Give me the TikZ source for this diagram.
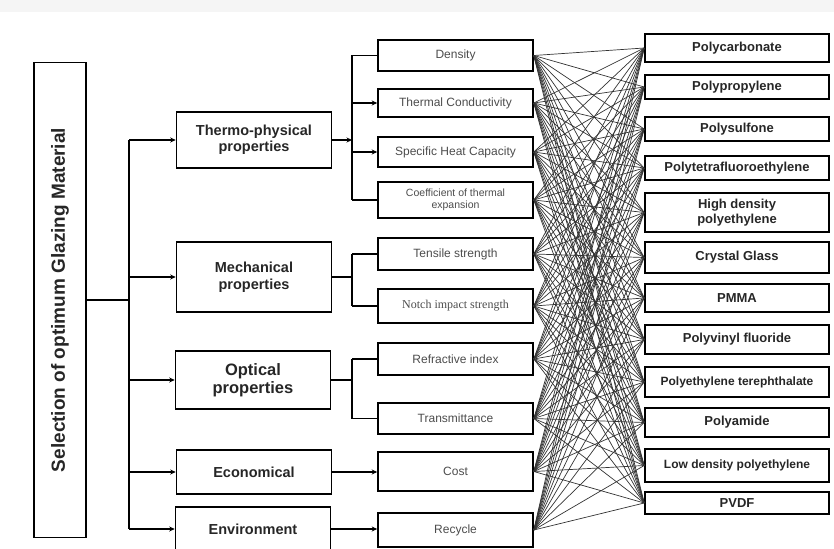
\documentclass[tikz,border=0pt]{standalone}
\usepackage{fontspec}
\setmainfont{Liberation Sans}
\newfontfamily\serifprop{Liberation Serif}
\usepackage{tikz}
\usetikzlibrary{arrows.meta,positioning}

\begin{document}
\begin{tikzpicture}[x=1pt,y=-1pt,
    >={Stealth[length=5.5pt,width=5pt]},
    box/.style={draw, line width=1.6pt, inner sep=1pt, align=center},
    catbox/.style={box, minimum width=155pt, font=\fontsize{14.5}{16.5}\selectfont\bfseries, text=black!85},
    propbox/.style={box, minimum width=155pt, font=\fontsize{12}{13}\selectfont, text=black!70},
    matbox/.style={box, minimum width=184pt, font=\fontsize{13}{14.5}\selectfont\bfseries, text=black!85},
    link/.style={line width=1.2pt},
    mesh/.style={line width=0.7pt, black!80}]
      \useasboundingbox (0,0) rectangle (834,548);
      \fill[black!4] (0,0) rectangle (834,12);

      % goal
      \node[draw, line width=1.6pt, minimum width=52pt, minimum height=475pt] (sel) at (60,300) {};
      \node[rotate=90, font=\fontsize{19}{21}\selectfont\bfseries, text=black!85] (selText) at (sel.center) {Selection of optimum Glazing Material};

      % criteria
      \node[catbox, minimum height=56pt] (thermo) at (254,140) {Thermo-physical\\properties};
      \node[catbox, minimum height=70pt] (mech) at (254,277) {Mechanical\\properties};
      \node[catbox, minimum height=58pt, font=\fontsize{16.5}{18.5}\selectfont\bfseries] (opt) at (253,380) {Optical\\properties};
      \node[catbox, minimum height=44pt] (econ) at (254,472) {Economical};
      \node[catbox, minimum height=44pt] (env) at (253,529) {Environment};

      % sub-criteria
      \node[propbox, minimum height=31pt] (dens) at (455.5,55.5) {Density};
      \node[propbox, minimum height=28pt] (tcond) at (455.5,103) {Thermal Conductivity};
      \node[propbox, minimum height=30pt] (heat) at (455.5,152) {Specific Heat Capacity};
      \node[propbox, minimum height=36pt, font=\fontsize{10.5}{12.5}\selectfont] (coef) at (455.5,200) {Coefficient of thermal\\expansion};
      \node[propbox, minimum height=32pt] (tens) at (455.5,254) {Tensile strength};
      \node[propbox, minimum height=34pt, font=\fontsize{12}{13}\serifprop] (notch) at (455.5,306) {Notch impact strength};
      \node[propbox, minimum height=32pt] (refr) at (455.5,359) {Refractive index};
      \node[propbox, minimum height=31pt] (trans) at (455.5,418.5) {Transmittance};
      \node[propbox, minimum height=39pt] (cost) at (455.5,471.5) {Cost};
      \node[propbox, minimum height=34pt] (recyc) at (455.5,530) {Recycle};

      % alternatives
      \node[matbox, minimum height=28pt] (pc) at (737,48) {Polycarbonate};
      \node[matbox, minimum height=24pt] (pp) at (737,87) {Polypropylene};
      \node[matbox, minimum height=24pt] (psu) at (737,129) {Polysulfone};
      \node[matbox, minimum height=24pt] (ptfe) at (737,168) {Polytetrafluoroethylene};
      \node[matbox, minimum height=39pt] (hdpe) at (737,212.5) {High density\\polyethylene};
      \node[matbox, minimum height=31pt] (glass) at (737,257.5) {Crystal Glass};
      \node[matbox, minimum height=28pt] (pmma) at (737,298) {PMMA};
      \node[matbox, minimum height=29pt] (pvf) at (737,339.5) {Polyvinyl fluoride};
      \node[matbox, minimum height=30pt, font=\fontsize{12}{13}\selectfont\bfseries] (pet) at (737,382) {Polyethylene terephthalate};
      \node[matbox, minimum height=29pt] (pa) at (737,422.5) {Polyamide};
      \node[matbox, minimum height=33pt, font=\fontsize{12}{13}\selectfont\bfseries] (ldpe) at (737,465.5) {Low density polyethylene};
      \node[matbox, minimum height=22pt] (pvdf) at (737,503) {PVDF};

      \coordinate (trunk) at (129,300);
      \coordinate (brk) at (352,300);

      % goal to criteria
      \draw[link] (sel.east) -- (trunk);
      \draw[link] (trunk |- thermo.west) -- (trunk |- env.west);
      \foreach \c in {thermo,mech,opt,econ,env}
        \draw[link,->] (trunk |- \c.west) -- (\c.west);

      % criteria to sub-criteria
      \draw[link,->] (thermo.east) -- (thermo.east -| brk);
      \draw[link] (brk |- dens.west) -- (brk |- coef.west);
      \draw[link] (brk |- dens.west) -- (dens.west);
      \draw[link,->] (brk |- tcond.west) -- (tcond.west);
      \draw[link,->] (brk |- heat.west) -- (heat.west);
      \draw[link] (brk |- coef.west) -- (coef.west);

      \draw[link] (mech.east) -- (mech.east -| brk);
      \draw[link] (brk |- tens.west) -- (brk |- notch.west);
      \draw[link] (brk |- tens.west) -- (tens.west);
      \draw[link] (brk |- notch.west) -- (notch.west);

      \draw[link] (opt.east) -- (opt.east -| brk);
      \draw[link] (brk |- refr.west) -- (brk |- trans.west);
      \draw[link] (brk |- refr.west) -- (refr.west);
      \draw[link] (brk |- trans.west) -- (trans.west);

      \draw[link,->] (econ.east) -- (econ.east -| cost.west);
      \draw[link,->] (env.east) -- (env.east -| recyc.west);

      % every sub-criterion to every material
      \foreach \p in {dens,tcond,heat,coef,tens,notch,refr,trans,cost,recyc}
        \foreach \m in {pc,pp,psu,ptfe,hdpe,glass,pmma,pvf,pet,pa,ldpe,pvdf}
          \draw[mesh] (\p.east) -- (\m.west);
    \end{tikzpicture}
\end{document}
